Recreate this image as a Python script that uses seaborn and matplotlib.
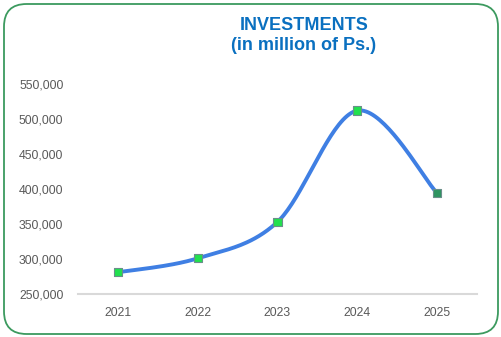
import numpy as np
import pandas as pd
import seaborn as sns
import matplotlib
matplotlib.use("Agg")
import matplotlib.pyplot as plt
from matplotlib.patches import FancyBboxPatch
from matplotlib.ticker import FuncFormatter

years = ["2021", "2022", "2023", "2024", "2025"]
investments = [281000, 301000, 353000, 512000, 394000]
y_ticks = [250000, 300000, 350000, 400000, 450000, 500000, 550000]

sns.set_theme(style="white")
plt.rcParams["font.family"] = ["Liberation Sans", "DejaVu Sans"]

W, H = 502, 337
fig = plt.figure(figsize=(W / 100, H / 100), dpi=100)
ax = fig.add_axes([78 / W, (H - 294) / H, (477 - 78) / W, (294 - 84) / H])

x = np.arange(len(years), dtype=float)
y = np.array(investments, dtype=float)

# Smoothed line (cubic Bezier through points, Catmull-Rom style control points)
xs, ys = [], []
n = len(x)
for i in range(n - 1):
    p0 = np.array([x[max(i - 1, 0)], y[max(i - 1, 0)]])
    p1 = np.array([x[i], y[i]])
    p2 = np.array([x[i + 1], y[i + 1]])
    p3 = np.array([x[min(i + 2, n - 1)], y[min(i + 2, n - 1)]])
    c1 = p1 + (p2 - p0) / 6
    c2 = p2 - (p3 - p1) / 6
    t = np.linspace(0, 1, 40)[:, None]
    seg = (1 - t) ** 3 * p1 + 3 * (1 - t) ** 2 * t * c1 + 3 * (1 - t) * t ** 2 * c2 + t ** 3 * p2
    xs.extend(seg[:, 0]); ys.extend(seg[:, 1])
curve = pd.DataFrame({"x": xs, "y": ys})
sns.lineplot(data=curve, x="x", y="y", sort=False, ax=ax, color="#3f7fe3",
             linewidth=2.8, solid_capstyle="round")

pts = pd.DataFrame({"x": x, "y": y})
colors = ["#22e04e"] * (n - 1) + ["#2e9460"]
ax.scatter(pts["x"], pts["y"], marker="s", s=36, c=colors,
           edgecolors="#6a8f8a", linewidths=0.8, zorder=3)

ax.set_xlim(-0.5, n - 0.5)
ax.set_ylim(250000, 550000)
ax.set_xticks(x)
ax.set_xticklabels(years)
ax.set_yticks(y_ticks)
ax.yaxis.set_major_formatter(FuncFormatter(lambda v, p: f"{int(v):,}"))
ax.tick_params(axis="both", length=0, labelsize=8.8, colors="#595959")
ax.tick_params(axis="x", pad=9)
ax.tick_params(axis="y", pad=10.5)
ax.set_xlabel("")
ax.set_ylabel("")
for s in ["top", "right", "left"]:
    ax.spines[s].set_visible(False)
ax.spines["bottom"].set_color("#d9d9d9")
ax.spines["bottom"].set_linewidth(1.5)
ax.grid(False)
ax.set_facecolor("none")

fig.text(304 / W, 1 - 25 / H, "INVESTMENTS", ha="center", va="center",
         fontsize=13, fontweight="bold", color="#0a70c0")
fig.text(304 / W, 1 - 46 / H, "(in million of Ps.)", ha="center", va="center",
         fontsize=13, fontweight="bold", color="#0a70c0")

border = FancyBboxPatch((4 / W, 3 / H), (W - 8) / W, (H - 7) / H,
                        boxstyle="round,pad=0,rounding_size=0.045",
                        transform=fig.transFigure, facecolor="none",
                        edgecolor="#3c9a5f", linewidth=1.3, mutation_aspect=W / H)
fig.patches.append(border)

fig.savefig("out.png", dpi=100)
